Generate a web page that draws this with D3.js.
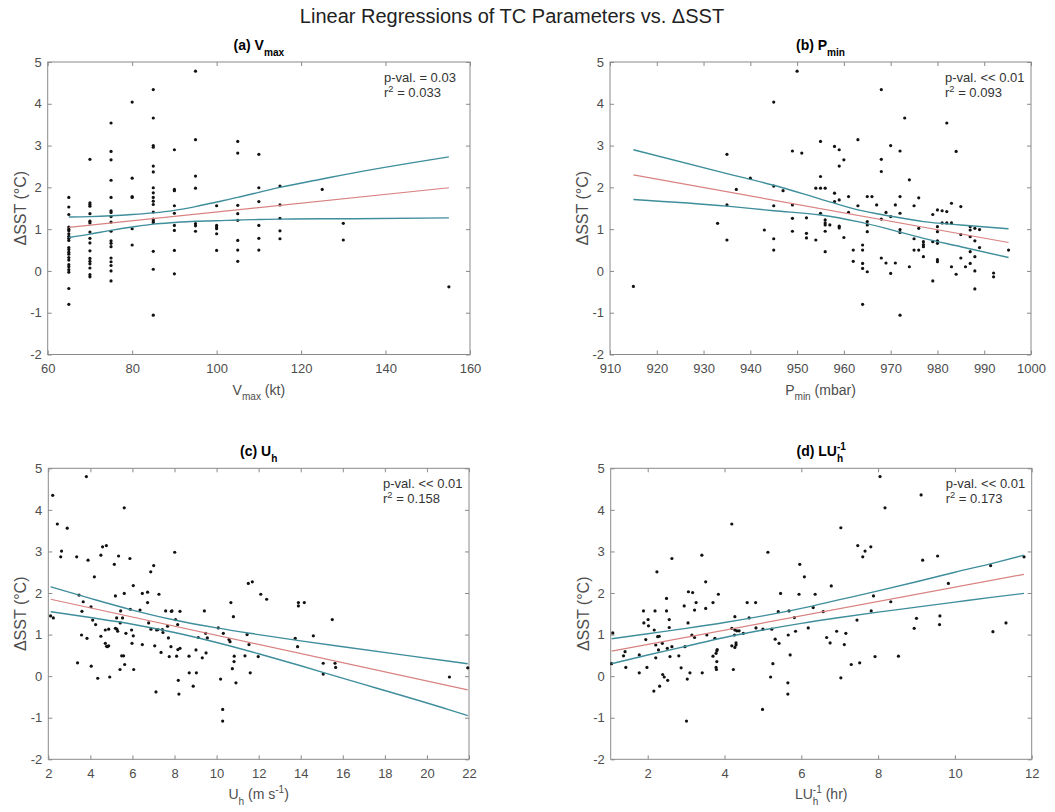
<!DOCTYPE html>
<html>
<head>
<meta charset="utf-8">
<script src="https://cdn.jsdelivr.net/npm/d3@7"></script>
<style>
  body { margin: 0; background: #fff; }
  svg { font-family: "Liberation Sans", Arial, sans-serif; }
</style>
</head>
<body>
<svg id="chart" width="1055" height="812"></svg>
<script>
// ---- data ----
const yTicks = [-2, -1, 0, 1, 2, 3, 4, 5];

// (a) Vmax: values grouped by wind-speed bin
const vmaxCols = [65, 70, 75, 80, 85, 90, 95, 100, 105, 110, 115, 125, 130, 155];
const vmaxVals = [
  [1.76, 1.53, 1.35, 1.05, 1.0, 0.96, 0.89, 0.83, 0.78, 0.73, 0.56, 0.51, 0.45, 0.40, 0.32, 0.26, 0.15, 0.10, 0.03, -0.03, -0.42, -0.80],
  [2.67, 1.63, 1.59, 1.55, 1.37, 1.19, 1.15, 0.93, 0.78, 0.67, 0.48, 0.30, 0.23, 0.17, 0.07, -0.09, -0.14],
  [3.54, 2.86, 2.66, 2.17, 1.76, 1.44, 1.40, 1.30, 1.17, 0.95, 0.72, 0.66, 0.58, 0.31, 0.22, 0.13, 0.0, -0.24],
  [4.04, 2.22, 1.78, 1.76, 1.01, 0.62],
  [4.34, 3.66, 3.0, 2.96, 2.51, 2.37, 1.99, 1.87, 1.76, 1.67, 1.59, 1.41, 1.24, 1.20, 1.16, 0.47, 0.04, -1.06],
  [2.90, 1.95, 1.92, 1.56, 1.38, 1.09, 0.97, 0.49, -0.07],
  [4.78, 3.14, 2.27, 1.98, 1.13, 1.08, 0.95],
  [1.56, 1.09, 1.05, 1.01, 0.89, 0.49],
  [3.10, 2.82, 1.57, 1.37, 1.21, 0.73, 0.50, 0.23],
  [2.79, 1.99, 1.66, 1.09, 0.78, 0.50],
  [2.03, 1.58, 1.26, 0.96, 0.77],
  [1.95],
  [1.14, 0.74],
  [-0.38]
];
const vmaxFit = [[65, 1.04], [155, 1.99]];
const vmaxCiX  = [65, 70, 75, 80, 85, 90, 95, 100, 105, 110, 115, 125, 130, 155];
const vmaxCiLo = [0.80, 0.88, 0.97, 1.05, 1.12, 1.16, 1.19, 1.20, 1.22, 1.23, 1.24, 1.25, 1.25, 1.27];
const vmaxCiHi = [1.29, 1.30, 1.32, 1.35, 1.39, 1.45, 1.54, 1.65, 1.76, 1.88, 2.00, 2.20, 2.30, 2.73];

// (b) Pmin
const pminPts = [
  [915, -0.37], [933, 1.14], [935, 2.79], [935, 1.58], [935, 0.74], [937, 1.95], [940, 2.22], [943, 0.98],
  [945, 4.04], [945, 2.03], [945, 1.56], [945, 0.77], [945, 0.50], [947, 1.92], [949, 2.87], [949, 1.58],
  [949, 1.26], [949, 0.95], [950, 4.78], [951, 2.82], [952, 1.27], [952, 0.90], [952, 0.79], [954, 0.74],
  [954, 1.98], [955, 3.10], [955, 2.26], [955, 1.98], [955, 1.38], [956, 1.98], [956, 1.22], [956, 1.15],
  [956, 1.10], [956, 0.95], [956, 0.46], [957, 1.10], [958, 2.98], [958, 1.86], [958, 1.66], [959, 2.90],
  [959, 2.51], [959, 1.70], [959, 1.07], [959, 1.03], [960, 2.66], [960, 0.80], [961, 1.78], [961, 1.40],
  [962, 0.50], [962, 0.23], [963, 3.14], [963, 1.56], [964, 0.62], [964, 0.50], [964, 0.18], [964, 0.06],
  [964, -0.80], [965, 1.78], [965, 1.18], [965, 1.10], [965, 0.94], [965, -0.02], [966, 1.78], [967, 1.58],
  [968, 4.34], [968, 2.67], [968, 2.38], [968, 1.24], [968, 0.31], [969, 1.40], [969, 0.19], [970, 3.00],
  [970, 1.30], [970, -0.06], [971, 1.58], [971, 0.19], [972, 2.87], [972, 1.78], [972, 1.38], [972, 0.99],
  [972, 0.92], [972, -1.06], [973, 3.66], [974, 2.18], [974, 0.10], [975, 1.56], [975, 0.77], [975, 0.50],
  [976, 1.75], [976, 1.02], [976, 0.50], [977, 0.70], [977, 0.63], [977, 0.58], [977, 0.34], [979, 1.35],
  [979, 0.70], [979, -0.24], [980, 1.46], [980, 1.06], [980, 0.94], [980, 0.72], [980, 0.66], [980, 0.27],
  [980, 0.22], [981, 1.44], [982, 1.42], [981, 1.15], [982, 1.15], [983, 1.15], [982, 3.54], [983, 1.62],
  [983, 0.10], [984, 2.86], [984, -0.08], [985, 1.54], [985, 0.87], [985, 0.31], [986, 0.10], [987, 1.06],
  [987, 0.98], [987, 0.82], [987, 0.46], [987, 0.18], [988, 1.02], [988, 0.72], [988, 0.34], [988, 0.0],
  [988, -0.43], [989, 0.99], [989, 0.56], [992, -0.05], [992, -0.14], [995.2, 0.50]
];
const pminFit = [[915, 2.30], [995.2, 0.68]];
const pminCiX  = [915, 935, 945, 955, 963, 970, 977, 985, 995.2];
const pminCiLo = [1.71, 1.55, 1.44, 1.34, 1.18, 0.99, 0.78, 0.58, 0.32];
const pminCiHi = [2.90, 2.33, 2.05, 1.72, 1.46, 1.31, 1.18, 1.10, 1.01];

// (c) Uh
const uhPts = [
  [2.11, 1.45], [2.24, 1.40], [2.21, 4.35], [2.43, 3.66], [2.59, 2.87], [2.63, 3.01], [2.90, 3.56], [3.35, 2.87],
  [3.39, 0.32], [3.46, 1.95], [3.58, 0.99], [3.60, 1.56], [3.66, 1.79], [3.81, 4.80], [3.84, 0.91], [3.89, 2.79],
  [4.03, 1.67], [4.04, 0.24], [4.11, 1.35], [4.19, 2.39], [4.25, 1.24], [4.35, -0.05], [4.50, 2.91], [4.50, 0.96],
  [4.58, 3.11], [4.71, 1.11], [4.76, 3.14], [4.71, 0.79], [4.77, 0.72], [4.81, 0.71], [4.87, 0.73], [4.87, 1.13],
  [4.92, -0.02], [5.14, 2.69], [5.19, 1.93], [5.19, 1.15], [5.26, 1.13], [5.25, 1.40], [5.30, 1.08], [5.34, 2.89],
  [5.41, 0.16], [5.44, 1.57], [5.42, 1.28], [5.49, 0.49], [5.58, 0.49], [5.53, 1.40], [5.61, 4.05], [5.61, 1.99],
  [5.63, 0.28], [5.69, 1.03], [5.88, 2.83], [5.90, 1.61], [5.96, 1.11], [5.98, 0.79], [6.04, 2.18], [6.04, 0.97],
  [6.06, 0.16], [6.36, 1.59], [6.47, 1.99], [6.47, 0.76], [6.72, 2.02], [6.72, 1.77], [6.77, 1.28], [6.87, 2.51],
  [6.88, 1.13], [7.01, 2.66], [7.06, 0.73], [7.12, -0.38], [7.15, 1.11], [7.21, 1.12], [7.26, 1.97], [7.36, 0.57],
  [7.42, 1.12], [7.45, 1.05], [7.58, 1.57], [7.67, 1.20], [7.71, 0.92], [7.75, 0.47], [7.83, 0.71], [7.85, 1.56],
  [7.88, 1.57], [8.01, 2.98], [8.05, 1.36], [8.10, 0.48], [8.15, 1.24], [8.16, 0.64], [8.18, -0.10], [8.21, -0.43],
  [8.26, 1.56], [8.26, 0.67], [8.69, 0.48], [8.70, 0.08], [8.89, -0.24], [9.02, 0.63], [9.04, 0.08], [9.13, 0.93],
  [9.32, 0.44], [9.42, 1.57], [9.48, 1.03], [9.50, 0.56], [9.56, 0.92], [10.08, 1.16], [10.19, -0.07], [10.29, -0.80],
  [10.29, -1.08], [10.32, 1.03], [10.59, 0.88], [10.64, 0.83], [10.68, 1.77], [10.75, 0.18], [10.80, 1.43], [10.83, 0.35],
  [10.84, 0.48], [10.92, -0.16], [11.35, 0.49], [11.45, 1.00], [11.51, 2.23], [11.54, 0.76], [11.60, 0.08], [11.70, 2.27],
  [11.98, 0.47], [12.10, 1.97], [12.38, 1.85], [13.74, 0.91], [13.85, 0.71], [13.89, 1.77], [13.89, 1.69], [14.17, 1.77],
  [14.60, 0.97], [15.07, 0.31], [15.07, 0.05], [15.50, 1.36], [15.63, 0.31], [15.66, 0.21], [21.07, -0.02], [21.94, 0.20]
];
const uhFit = [[2.11, 1.85], [21.94, -0.33]];
const uhCiX  = [2.11, 4, 6, 8, 10, 12, 14, 15.66, 21.07, 21.94];
const uhCiLo = [1.55, 1.41, 1.25, 1.05, 0.81, 0.54, 0.25, 0.0, -0.81, -0.95];
const uhCiHi = [2.15, 1.87, 1.59, 1.35, 1.16, 1.00, 0.85, 0.73, 0.36, 0.30];

// (d) L/Uh
const luhPts = [
  [1.06, 0.30], [1.09, 1.04], [1.37, 0.49], [1.41, 0.59], [1.43, 0.21], [1.78, 0.51], [1.78, 0.08], [1.89, 1.57],
  [1.90, 1.28], [1.95, 0.88], [1.98, 0.21], [2.01, 1.36], [2.02, 1.21], [2.16, -0.36], [2.17, 1.11], [2.19, 1.57],
  [2.21, 0.75], [2.21, 0.44], [2.24, 2.51], [2.26, 0.95], [2.30, 0.96], [2.28, 0.63], [2.31, -0.24], [2.39, 0.04],
  [2.38, 0.79], [2.43, -0.02], [2.49, 1.57], [2.49, 1.87], [2.51, 0.67], [2.52, -0.10], [2.56, 1.36], [2.56, 1.17],
  [2.58, 0.47], [2.63, 2.83], [2.63, 0.71], [2.81, 0.49], [2.87, 0.20], [2.95, 1.69], [2.97, 0.71], [3.01, -1.08],
  [3.03, -0.07], [3.05, 1.28], [3.06, 2.03], [3.10, 0.08], [3.15, 0.99], [3.17, 2.01], [3.22, 0.93], [3.22, 1.59],
  [3.26, 1.77], [3.41, 2.91], [3.42, 0.08], [3.51, 2.27], [3.51, 1.63], [3.54, 0.99], [3.70, 1.77], [3.70, 0.48],
  [3.75, 0.91], [3.78, 0.55], [3.80, 0.61], [3.81, 0.64], [3.80, 0.35], [3.78, 0.21], [3.79, 0.16], [3.84, 1.97],
  [4.19, 3.66], [4.19, 1.15], [4.19, 0.73], [4.23, 0.16], [4.26, 0.99], [4.27, 1.11], [4.27, 1.43], [4.27, 0.69],
  [4.30, 0.75], [4.30, 0.80], [4.32, 1.09], [4.38, 1.09], [4.49, 1.03], [4.59, 1.77], [4.64, 1.40], [4.81, 1.77],
  [4.82, 1.16], [4.99, -0.80], [5.00, 1.13], [5.13, 2.98], [5.20, -0.02], [5.23, 1.13], [5.26, 0.30], [5.32, 0.89],
  [5.40, 1.55], [5.42, 0.79], [5.46, 1.99], [5.65, -0.16], [5.65, -0.43], [5.66, 0.99], [5.68, 1.57], [5.71, 0.51],
  [5.82, 1.41], [5.85, 1.08], [5.94, 1.97], [5.96, 2.69], [6.08, 2.39], [6.18, 1.16], [6.31, 1.65], [6.36, 1.97],
  [6.57, 1.55], [6.66, 0.93], [6.75, 0.80], [6.78, 2.17], [6.92, 1.08], [7.03, 3.57], [7.03, -0.04], [7.12, 0.76],
  [7.16, 1.03], [7.30, 0.28], [7.45, 1.35], [7.47, 3.14], [7.52, 0.32], [7.60, 2.87], [7.66, 3.01], [7.81, 3.11],
  [7.82, 1.57], [7.88, 1.93], [7.92, 0.47], [8.05, 4.80], [8.18, 4.05], [8.33, 1.79], [8.53, 0.48], [8.94, 1.15],
  [9.00, 1.39], [9.12, 4.36], [9.16, 2.79], [9.55, 2.89], [9.60, 1.24], [9.61, 1.45], [9.83, 2.23], [10.93, 2.66],
  [10.99, 1.07], [11.33, 1.28], [11.80, 2.87]
];
const luhFit = [[1.06, 0.60], [11.8, 2.45]];
const luhCiX  = [1.06, 2, 3, 4, 5, 6, 7, 8, 9, 10, 11, 11.8];
const luhCiLo = [0.30, 0.51, 0.72, 0.93, 1.11, 1.27, 1.41, 1.54, 1.66, 1.78, 1.90, 1.99];
const luhCiHi = [0.90, 1.02, 1.15, 1.29, 1.45, 1.63, 1.84, 2.05, 2.27, 2.50, 2.72, 2.91];

// ---- drawing ----
const svg = d3.select("#chart");
const frameColor = "#8a8a8a";
const tickText = "#4d4d4d";
const ciColor = "#3f8e9c";
const fitColor = "#d98282";

// text built from pieces: {t, sub, sup, back}
function richText(parent, x, y, pieces, size, opts = {}) {
  const text = parent.append("text")
      .attr("x", x).attr("y", y)
      .attr("text-anchor", opts.anchor || "middle")
      .attr("fill", opts.fill || "#000")
      .style("font-size", size + "px")
      .style("font-weight", opts.weight || "normal");
  if (opts.rotate) text.attr("transform", `rotate(-90,${x},${y})`);
  let cur = 0, lastW = 0, extra = 0;
  pieces.forEach(p => {
    const small = p.sub || p.sup;
    const target = p.sub ? size * 0.42 : p.sup ? -size * 0.42 : 0;
    const ts = text.append("tspan")
        .text(p.t)
        .attr("dy", target - cur)
        .style("font-size", (small ? size * 0.72 : size) + "px");
    if (p.back) ts.attr("dx", -lastW);
    else if (extra > 0) ts.attr("dx", extra);
    const w = ts.node().getComputedTextLength();
    extra = p.back ? lastW - w : 0;
    cur = target;
    lastW = w;
  });
  return text;
}

const panels = [
  { box: [47.7, 62, 470, 354.5], xDomain: [60, 160], xTicks: d3.range(60, 161, 20),
    pts: vmaxCols.flatMap((c, i) => vmaxVals[i].map(v => [c, v])),
    fit: vmaxFit, ciX: vmaxCiX, ciLo: vmaxCiLo, ciHi: vmaxCiHi,
    title: [{t: "(a) V"}, {t: "max", sub: true}],
    xlabel: [{t: "V"}, {t: "max", sub: true}, {t: " (kt)"}],
    stats: "p-val. = 0.03", r2: " = 0.033" },
  { box: [610, 62, 1031, 354.5], xDomain: [910, 1000], xTicks: d3.range(910, 1001, 10),
    pts: pminPts, fit: pminFit, ciX: pminCiX, ciLo: pminCiLo, ciHi: pminCiHi,
    title: [{t: "(b) P"}, {t: "min", sub: true}],
    xlabel: [{t: "P"}, {t: "min", sub: true}, {t: " (mbar)"}],
    stats: "p-val. << 0.01", r2: " = 0.093" },
  { box: [48.3, 468.3, 469, 759.3], xDomain: [2, 22], xTicks: d3.range(2, 23, 2),
    pts: uhPts, fit: uhFit, ciX: uhCiX, ciLo: uhCiLo, ciHi: uhCiHi,
    title: [{t: "(c) U"}, {t: "h", sub: true}],
    xlabel: [{t: "U"}, {t: "h", sub: true}, {t: " (m s"}, {t: "-1", sup: true}, {t: ")"}],
    stats: "p-val. << 0.01", r2: " = 0.158" },
  { box: [610.7, 468.3, 1031.7, 759.3], xDomain: [1.036, 12], xTicks: d3.range(2, 13, 2),
    pts: luhPts, fit: luhFit, ciX: luhCiX, ciLo: luhCiLo, ciHi: luhCiHi,
    title: [{t: "(d) LU"}, {t: "-1", sup: true}, {t: "h", sub: true, back: true}],
    xlabel: [{t: "LU"}, {t: "-1", sup: true}, {t: "h", sub: true, back: true}, {t: " (hr)"}],
    stats: "p-val. << 0.01", r2: " = 0.173" }
];

function styleAxis(g) {
  g.select(".domain").remove();
  g.selectAll(".tick line").attr("stroke", frameColor);
  g.selectAll(".tick text").attr("fill", tickText)
    .style("font-size", "13px").style("font-family", "'Liberation Sans', Arial, sans-serif");
}

panels.forEach(p => {
  const [x0, y0, x1, y1] = p.box;
  const x = d3.scaleLinear().domain(p.xDomain).range([x0, x1]);
  const y = d3.scaleLinear().domain([-2, 5]).range([y1, y0]);
  const g = svg.append("g");

  g.append("g").attr("transform", `translate(0,${y1})`)
    .call(d3.axisBottom(x).tickValues(p.xTicks).tickSizeInner(-4).tickSizeOuter(0)
      .tickPadding(9).tickFormat(d => String(d)))
    .call(styleAxis);
  g.append("g").attr("transform", `translate(0,${y0})`)
    .call(d3.axisTop(x).tickValues(p.xTicks).tickSizeInner(-4).tickSizeOuter(0).tickFormat(""))
    .call(styleAxis);
  g.append("g").attr("transform", `translate(${x0},0)`)
    .call(d3.axisLeft(y).tickValues(yTicks).tickSizeInner(-4).tickSizeOuter(0)
      .tickPadding(6).tickFormat(d => String(d)))
    .call(styleAxis);
  g.append("g").attr("transform", `translate(${x1},0)`)
    .call(d3.axisRight(y).tickValues(yTicks).tickSizeInner(-4).tickSizeOuter(0).tickFormat(""))
    .call(styleAxis);

  g.append("rect")
    .attr("x", x0).attr("y", y0).attr("width", x1 - x0).attr("height", y1 - y0)
    .attr("fill", "none").attr("stroke", frameColor).attr("stroke-width", 1);

  g.append("g").selectAll("circle")
    .data(p.pts)
    .join("circle")
      .attr("cx", d => x(d[0]))
      .attr("cy", d => y(d[1]))
      .attr("r", 1.6)
      .attr("fill", "#111");

  const line = d3.line().x(d => x(d[0])).y(d => y(d[1])).curve(d3.curveMonotoneX);
  [p.ciHi, p.ciLo].forEach(arr => {
    g.append("path")
      .attr("d", line(p.ciX.map((v, i) => [v, arr[i]])))
      .attr("fill", "none").attr("stroke", ciColor).attr("stroke-width", 1.4);
  });
  g.append("path")
    .attr("d", d3.line().x(d => x(d[0])).y(d => y(d[1]))(p.fit))
    .attr("fill", "none").attr("stroke", fitColor).attr("stroke-width", 1.2);

  // titles and labels
  richText(g, (x0 + x1) / 2, y0 - 12, p.title, 14, { weight: "bold" });
  richText(g, (x0 + x1) / 2, y1 + 40, p.xlabel, 14, { fill: "#4d4d4d" });
  richText(g, x0 - 22, (y0 + y1) / 2, [{t: "\u0394SST (\u00B0C)"}], 16, { fill: "#4d4d4d", rotate: true });

  richText(g, x1 - 86, y0 + 20, [{t: p.stats}], 13, { anchor: "start", fill: "#333" });
  richText(g, x1 - 86, y0 + 35, [{t: "r"}, {t: "2", sup: true}, {t: p.r2}], 13, { anchor: "start", fill: "#333" });
});

svg.append("text")
  .attr("x", 512).attr("y", 23)
  .attr("text-anchor", "middle")
  .style("font-size", "20px")
  .attr("fill", "#222")
  .text("Linear Regressions of TC Parameters vs. \u0394SST");
</script>
</body>
</html>
